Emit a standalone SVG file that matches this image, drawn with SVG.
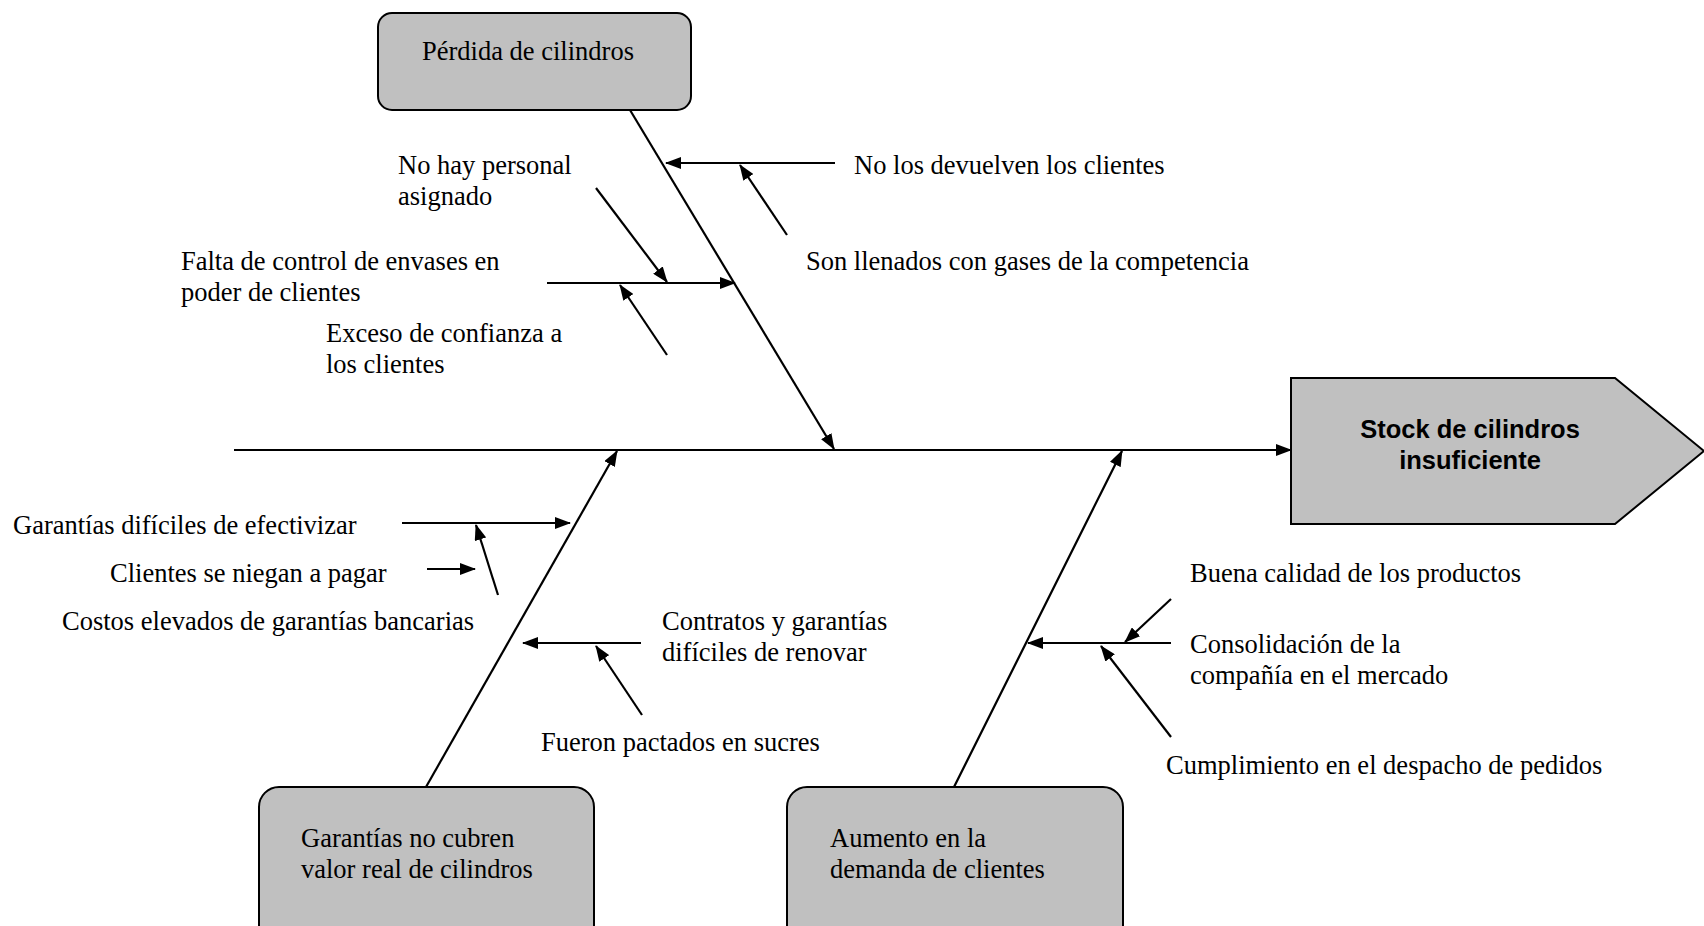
<svg xmlns="http://www.w3.org/2000/svg" width="1704" height="926" viewBox="0 0 1704 926">
<style>
.t{font-family:"Liberation Serif","Times New Roman",serif;font-size:26.5px;fill:#000}
.b{font-family:"Liberation Sans",Arial,sans-serif;font-size:25.5px;font-weight:bold;fill:#000}
.box{fill:#c0c0c0;stroke:#000;stroke-width:2}
.ln{stroke:#000;stroke-width:2.2;fill:none}
.ar{stroke:#000;stroke-width:2.2;fill:none;marker-end:url(#ah)}
</style>
<defs>
<marker id="ah" markerUnits="userSpaceOnUse" markerWidth="16" markerHeight="12" refX="15" refY="6" orient="auto">
<path d="M0,0 L16,6 L0,12 Z" fill="#000"/>
</marker>
</defs>
<rect width="1704" height="926" fill="#fff"/>
<g id="connectors">
<line class="ar" x1="234" y1="450" x2="1291" y2="450"/>
<line class="ar" x1="630" y1="110" x2="834" y2="449"/>
<line class="ar" x1="426" y1="787" x2="617" y2="451"/>
<line class="ar" x1="954" y1="787" x2="1122" y2="451"/>
<line class="ar" x1="835" y1="163" x2="666" y2="163"/>
<line class="ar" x1="787" y1="235" x2="740" y2="165"/>
<line class="ar" x1="596" y1="188" x2="667" y2="282"/>
<line class="ar" x1="547" y1="283" x2="735" y2="283"/>
<line class="ar" x1="667" y1="355" x2="620" y2="285"/>
<line class="ar" x1="402" y1="523" x2="570" y2="523"/>
<line class="ar" x1="427" y1="569" x2="475" y2="569"/>
<line class="ar" x1="498" y1="595" x2="476" y2="525"/>
<line class="ar" x1="641" y1="643" x2="523" y2="643"/>
<line class="ar" x1="642" y1="715" x2="596" y2="646"/>
<line class="ar" x1="1171" y1="599" x2="1125" y2="642"/>
<line class="ar" x1="1171" y1="643" x2="1028" y2="643"/>
<line class="ar" x1="1171" y1="737" x2="1101" y2="646"/>
</g>
<g id="effect">
<path class="box" d="M1291,378 L1615,378 L1704,451 L1615,524 L1291,524 Z"/>
<text class="b" x="1470" y="438" text-anchor="middle">Stock de cilindros</text>
<text class="b" x="1470" y="469" text-anchor="middle">insuficiente</text>
</g>
<g id="perdida">
<rect class="box" x="378" y="13" width="313" height="97" rx="14"/>
<text class="t" x="422" y="60">Pérdida de cilindros</text>
</g>
<g id="garantias">
<rect class="box" x="259" y="787" width="335" height="160" rx="20"/>
<text class="t" x="301" y="847">Garantías no cubren</text>
<text class="t" x="301" y="878">valor real de cilindros</text>
</g>
<g id="aumento">
<rect class="box" x="787" y="787" width="336" height="160" rx="20"/>
<text class="t" x="830" y="847">Aumento en la</text>
<text class="t" x="830" y="878">demanda de clientes</text>
</g>
<g id="causes">
<text class="t" x="398" y="174">No hay personal</text>
<text class="t" x="398" y="205">asignado</text>
<text class="t" x="854" y="174">No los devuelven los clientes</text>
<text class="t" x="806" y="270">Son llenados con gases de la competencia</text>
<text class="t" x="181" y="270">Falta de control de envases en</text>
<text class="t" x="181" y="301">poder de clientes</text>
<text class="t" x="326" y="342">Exceso de confianza a</text>
<text class="t" x="326" y="373">los clientes</text>
<text class="t" x="13" y="534">Garantías difíciles de efectivizar</text>
<text class="t" x="110" y="582">Clientes se niegan a pagar</text>
<text class="t" x="62" y="630">Costos elevados de garantías bancarias</text>
<text class="t" x="662" y="630">Contratos y garantías</text>
<text class="t" x="662" y="661">difíciles de renovar</text>
<text class="t" x="541" y="751">Fueron pactados en sucres</text>
<text class="t" x="1190" y="582">Buena calidad de los productos</text>
<text class="t" x="1190" y="653">Consolidación de la</text>
<text class="t" x="1190" y="684">compañía en el mercado</text>
<text class="t" x="1166" y="774">Cumplimiento en el despacho de pedidos</text>
</g>
</svg>
